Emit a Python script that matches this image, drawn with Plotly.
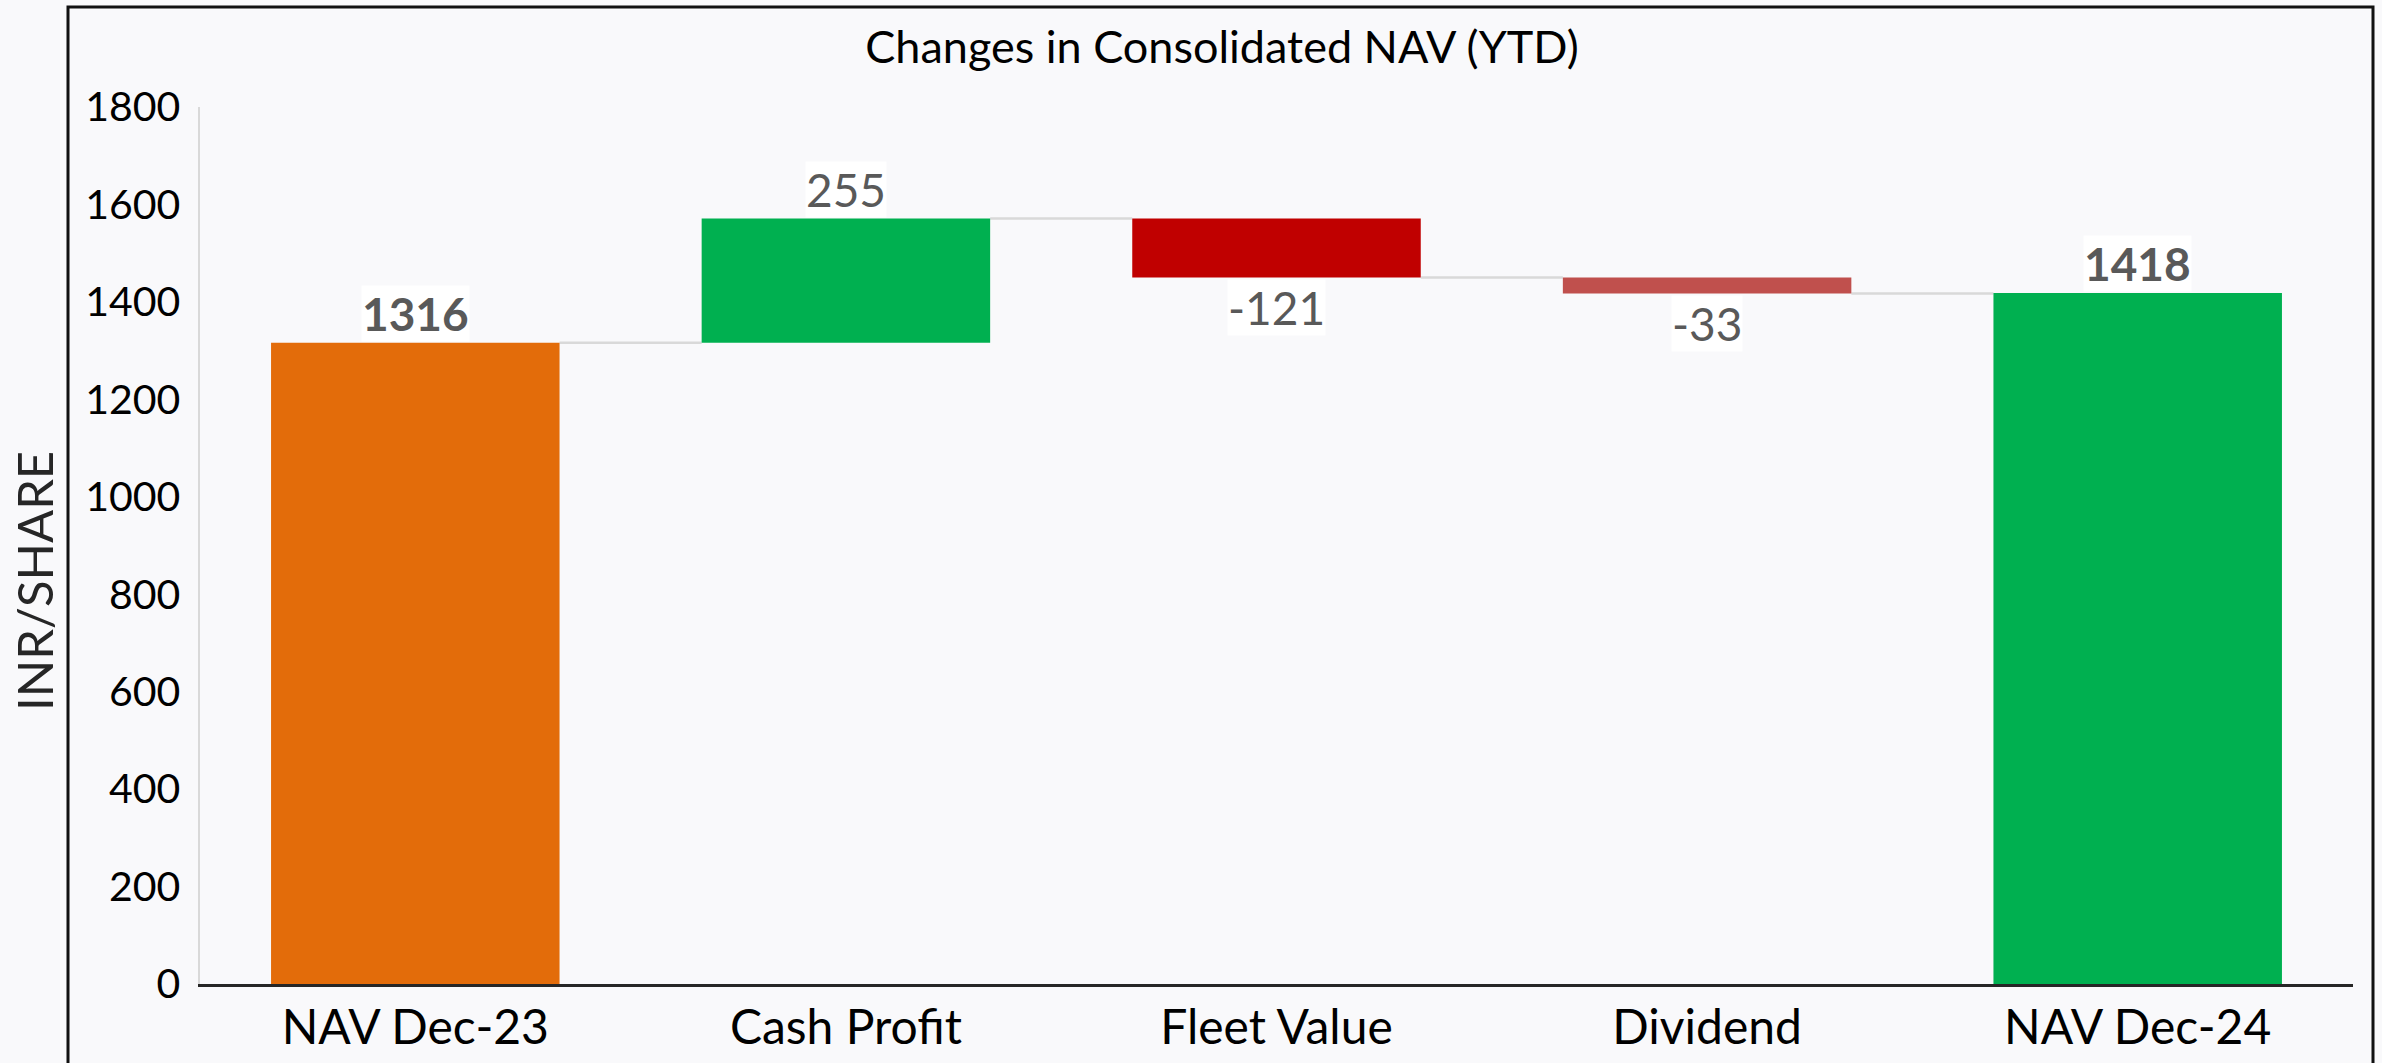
import plotly.graph_objects as go

# ---- data ----
categories = ["NAV Dec-23", "Cash Profit", "Fleet Value", "Dividend", "NAV Dec-24"]
values = [1316, 255, -121, -33, 1418]
measures = ["absolute", "relative", "relative", "relative", "total"]
bar_colors = ["#E36C0A", "#00B050", "#C00000", "#C0504D", "#00B050"]
y_ticks = [0, 200, 400, 600, 800, 1000, 1200, 1400, 1600, 1800]

# ---- compute waterfall geometry from data ----
bases, heights, tops, bottoms = [], [], [], []
running = 0
for v, m in zip(values, measures):
    if m in ("absolute", "total"):
        base, h = 0, v
        running = v
    else:
        base, h = running, v
        running = running + v
    bases.append(base)
    heights.append(h)
    tops.append(max(base, base + h))
    bottoms.append(min(base, base + h))

ends = [b + h for b, h in zip(bases, heights)]

BAR_W = 0.67
FONT = "Lato, 'Open Sans', Arial, sans-serif"

# plot area in page pixels
PL, PR, PT, PB = 200, 2353, 107, 984
W, H = 2382, 1063
pw, ph = PR - PL, PB - PT


def px(x):
    return (x - PL) / pw


def py(y):
    return (PB - y) / ph


fig = go.Figure()
fig.add_trace(go.Bar(
    x=list(range(len(categories))),
    y=heights,
    base=bases,
    marker=dict(color=bar_colors, line=dict(width=0)),
    width=BAR_W,
    hoverinfo="skip",
    showlegend=False,
))

shapes = []
for i in range(len(categories) - 1):
    level = ends[i]
    shapes.append(dict(type="line", xref="x", yref="y",
                       x0=i + BAR_W / 2, x1=i + 1 - BAR_W / 2,
                       y0=level, y1=level,
                       line=dict(color="#D9D9D9", width=2.5), layer="below"))

# outer border
shapes.append(dict(type="rect", xref="paper", yref="paper",
                   x0=px(68), x1=px(2373), y0=py(1200), y1=py(7),
                   line=dict(color="#111111", width=3), fillcolor="rgba(0,0,0,0)",
                   layer="above"))

annotations = []
for i, (v, m) in enumerate(zip(values, measures)):
    is_total = m in ("absolute", "total")
    txt = f"<b>{v}</b>" if is_total else f"{v}"
    if v >= 0:
        y, ya, ys = tops[i], "bottom", 1
    else:
        y, ya, ys = bottoms[i], "top", -1
    annotations.append(dict(
        x=i, y=y, xref="x", yref="y", text=txt, showarrow=False,
        yanchor=ya, xanchor="center", yshift=ys,
        font=dict(family=FONT, size=46, color="#595959"),
        bgcolor="#FFFFFF", borderpad=0,
    ))

annotations.append(dict(
    x=px(34), y=py(581), xref="paper", yref="paper",
    text="INR/SHARE", textangle=-90, showarrow=False,
    xanchor="center", yanchor="middle",
    font=dict(family=FONT, size=49, color="#262626"),
))

fig.update_layout(
    width=W, height=H,
    margin=dict(l=PL, r=W - PR, t=PT, b=H - PB, autoexpand=False),
    paper_bgcolor="#F9F9FB",
    plot_bgcolor="#F9F9FB",
    title=dict(text="Changes in Consolidated NAV (YTD)",
               x=1222 / W, xref="container", xanchor="center",
               y=1 - 47 / H, yref="container", yanchor="middle",
               font=dict(family=FONT, size=45, color="#000000")),
    shapes=shapes,
    annotations=annotations,
    xaxis=dict(
        range=[-0.5, len(categories) - 0.5],
        tickmode="array", tickvals=list(range(len(categories))), ticktext=categories,
        showgrid=False, zeroline=False,
        showline=True, linecolor="#262626", linewidth=2.5,
        ticks="", ticklabelstandoff=0,
        tickfont=dict(family=FONT, size=48, color="#000000"),
    ),
    yaxis=dict(
        range=[0, 1800],
        tickmode="array", tickvals=y_ticks,
        showgrid=False, zeroline=False,
        showline=True, linecolor="#D9D9D9", linewidth=2.5,
        ticks="", ticklabelstandoff=9,
        tickfont=dict(family=FONT, size=41, color="#000000"),
    ),
    font=dict(family=FONT),
)

fig.write_html("out.html",
               config={"displayModeBar": False, "staticPlot": True},
               post_script="document.body.style.margin='0';document.body.style.background='#F9F9FB';")
